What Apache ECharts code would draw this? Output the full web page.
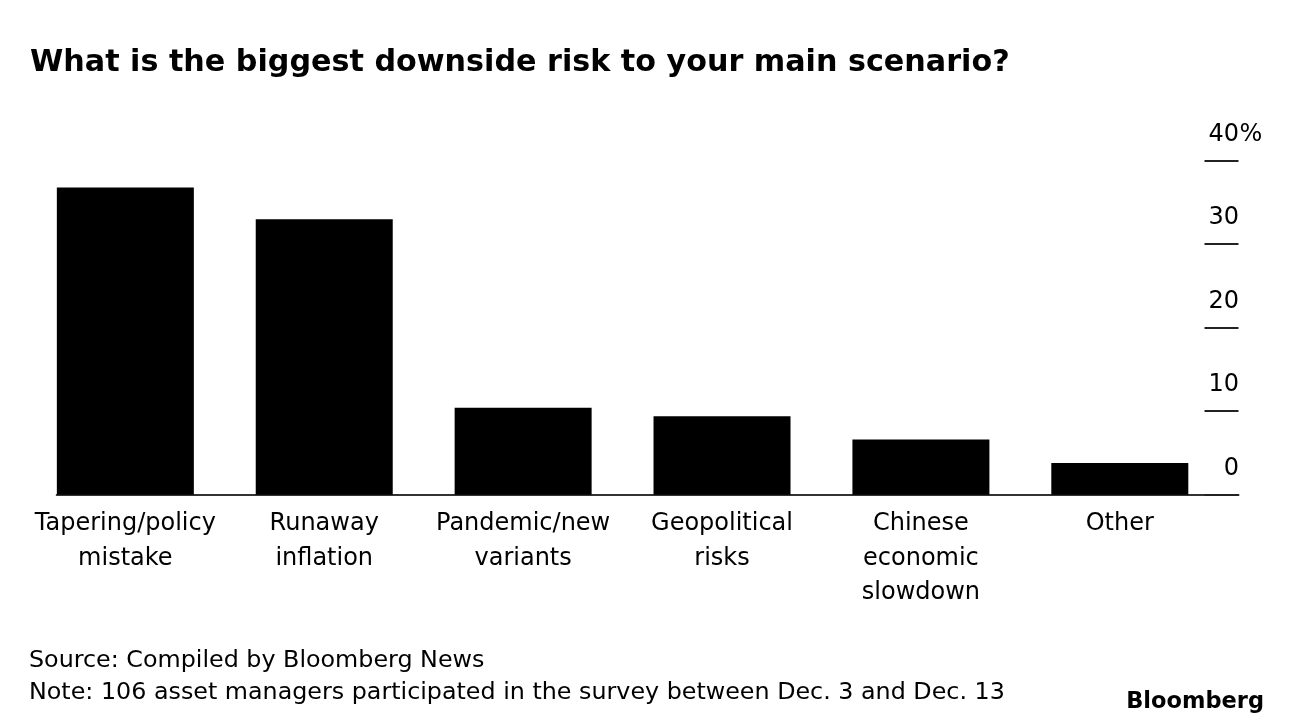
<!DOCTYPE html>
<html>
<head>
<meta charset="utf-8">
<script src="https://cdn.jsdelivr.net/npm/echarts@6/dist/echarts.min.js"></script>
<style>
  html, body { margin: 0; padding: 0; background: #fff; }
  #chart { width: 1292px; height: 728px; }
</style>
</head>
<body>
<div id="chart"></div>
<script>
const categories = [
  'Tapering/policy\nmistake',
  'Runaway\ninflation',
  'Pandemic/new\nvariants',
  'Geopolitical\nrisks',
  'Chinese\neconomic\nslowdown',
  'Other'
];
const values = [36.8, 33.0, 10.4, 9.4, 6.6, 3.8];
const yMin = 0;
const yMax = 40;
const yStep = 10;
const titleText = 'What is the biggest downside risk to your main scenario?';
const footerText = 'Source: Compiled by Bloomberg News\nNote: 106 asset managers participated in the survey between Dec. 3 and Dec. 13';
const brandText = 'Bloomberg';

const FONT = 'DejaVu Sans';
const chart = echarts.init(document.getElementById('chart'), null, { renderer: 'canvas' });

const gridTop = 160.7;
const gridBottom = 728 - 494.7;

chart.setOption({
  animation: false,
  backgroundColor: '#ffffff',
  title: [
    {
      text: titleText,
      left: 25,
      top: 40.5,
      textStyle: { fontFamily: FONT, fontWeight: 'bold', fontSize: 30.2, lineHeight: 36, color: '#000' }
    },
    {
      text: footerText,
      left: 24,
      top: 639.5,
      textStyle: { fontFamily: FONT, fontWeight: 'normal', fontSize: 23.8, lineHeight: 32, color: '#000' }
    },
    {
      text: brandText,
      right: 23,
      top: 684,
      textStyle: { fontFamily: FONT, fontWeight: 'bold', fontSize: 22.5, lineHeight: 26, color: '#000' }
    }
  ],
  grid: [
    { left: 25.9, right: 1292 - 1219.25, top: gridTop, bottom: gridBottom, containLabel: false },
    { left: 56.7, right: 1292 - 1238.5, top: gridTop, bottom: gridBottom, containLabel: false }
  ],
  xAxis: [
    {
      type: 'category',
      gridIndex: 0,
      data: categories,
      axisLine: { show: false },
      axisTick: { show: false },
      axisLabel: {
        interval: 0,
        margin: 12,
        fontFamily: FONT,
        fontSize: 24,
        lineHeight: 34.5,
        color: '#000'
      }
    },
    {
      type: 'value',
      gridIndex: 1,
      min: 0,
      max: 1,
      axisLine: { show: true, onZero: false, lineStyle: { color: '#333', width: 2 } },
      axisTick: { show: false },
      axisLabel: { show: false },
      splitLine: { show: false }
    }
  ],
  yAxis: [
    {
      type: 'value',
      gridIndex: 0,
      min: yMin,
      max: yMax,
      interval: yStep,
      show: false
    },
    {
      type: 'value',
      gridIndex: 1,
      position: 'right',
      min: yMin,
      max: yMax,
      interval: yStep,
      axisLine: { show: false, onZero: false },
      splitLine: { show: false },
      axisTick: { show: true, inside: true, length: 34, lineStyle: { color: '#222', width: 2 } },
      axisLabel: {
        inside: false,
        margin: 24.5,
        align: 'right',
        verticalAlign: 'middle',
        padding: [0, 0, 52, 0],
        fontFamily: FONT,
        fontSize: 24,
        color: '#000',
        formatter: function (v) {
          return v === yMax ? v + '{p|%}' : v + '{p| }';
        },
        rich: {
          p: { width: 24, align: 'left', fontFamily: FONT, fontSize: 24, color: '#000' }
        }
      }
    }
  ],
  series: [
    {
      type: 'bar',
      xAxisIndex: 0,
      yAxisIndex: 0,
      data: values,
      barWidth: 137,
      itemStyle: { color: '#000' },
      silent: true
    }
  ]
});
</script>
</body>
</html>
